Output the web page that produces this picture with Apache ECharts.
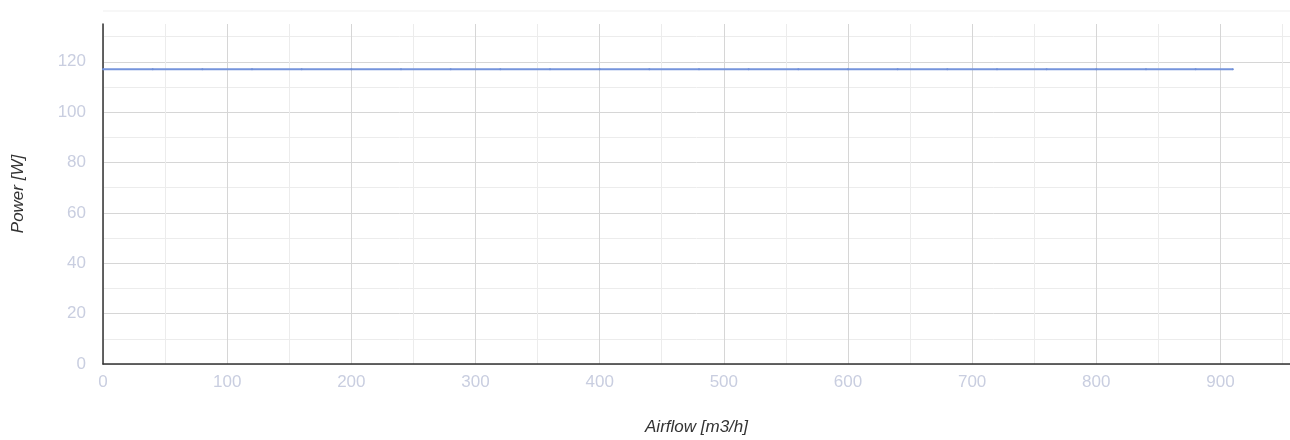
<!DOCTYPE html>
<html>
<head>
<meta charset="utf-8">
<script src="https://cdn.jsdelivr.net/npm/echarts@6/dist/echarts.min.js"></script>
<style>
  html, body { margin: 0; padding: 0; background: #fff; }
  #chart { width: 1290px; height: 440px; }
</style>
</head>
<body>
<div id="chart"></div>
<script>
// airflow [m3/h] and power [W]
const airflow = [0, 40, 80, 120, 160, 200, 240, 280, 320, 360, 400, 440, 480, 520, 560, 600, 640, 680, 720, 760, 800, 840, 880, 910];
const power = [117, 117, 117, 117, 117, 117, 117, 117, 117, 117, 117, 117, 117, 117, 117, 117, 117, 117, 117, 117, 117, 117, 117, 117];

const xMax = 956;
const yMax = 135;

const chart = echarts.init(document.getElementById('chart'));

const labelColor = '#c9cee0';
const majorGrid = '#d6d6d6';
const minorGrid = '#ececec';
const none = 'rgba(0,0,0,0)';

// the last tick sits on the extent end, the reference draws no line there
const xSplitColors = [majorGrid, majorGrid, majorGrid, majorGrid, majorGrid, majorGrid, majorGrid, majorGrid, majorGrid, majorGrid, none];
const ySplitColors = [majorGrid, majorGrid, majorGrid, majorGrid, majorGrid, majorGrid, majorGrid, none];

const nameStyle = { color: '#333', fontStyle: 'italic', fontSize: 17, fontFamily: 'Liberation Sans' };

chart.setOption({
  animation: false,
  grid: { left: 103, right: 0, top: 24, bottom: 76, outerBoundsMode: 'none', containLabel: false },
  graphic: [
    {
      type: 'line',
      shape: { x1: 103, y1: 11, x2: 1290, y2: 11 },
      style: { stroke: '#efefef', lineWidth: 1 }
    }
  ],
  xAxis: {
    type: 'value',
    min: 0,
    max: xMax,
    interval: 100,
    name: 'Airflow [m3/h]',
    nameLocation: 'middle',
    nameGap: 55,
    nameTextStyle: nameStyle,
    axisLine: { show: true, lineStyle: { color: '#333', width: 1.5 } },
    axisTick: { show: false },
    axisLabel: { color: labelColor, fontSize: 17, margin: 10, fontFamily: 'Liberation Sans', showMaxLabel: false },
    splitLine: { show: true, lineStyle: { color: xSplitColors, width: 1 } },
    minorTick: { show: false, splitNumber: 2 },
    minorSplitLine: { show: true, lineStyle: { color: minorGrid, width: 1 } }
  },
  yAxis: {
    type: 'value',
    min: 0,
    max: yMax,
    interval: 20,
    name: 'Power [W]',
    nameLocation: 'middle',
    nameGap: 76,
    nameTextStyle: nameStyle,
    axisLine: { show: true, lineStyle: { color: '#333', width: 1.5 } },
    axisTick: { show: false },
    axisLabel: { color: labelColor, fontSize: 17, margin: 17, fontFamily: 'Liberation Sans', showMaxLabel: false },
    splitLine: { show: true, lineStyle: { color: ySplitColors, width: 1 } },
    minorTick: { show: false, splitNumber: 2 },
    minorSplitLine: { show: true, lineStyle: { color: minorGrid, width: 1 } }
  },
  series: [
    {
      type: 'line',
      data: airflow.map((a, i) => [a, power[i]]),
      showSymbol: true,
      symbol: 'circle',
      symbolSize: 2,
      itemStyle: { color: '#6f8fd8' },
      lineStyle: { color: '#7594dc', width: 2 }
    }
  ]
});
</script>
</body>
</html>
